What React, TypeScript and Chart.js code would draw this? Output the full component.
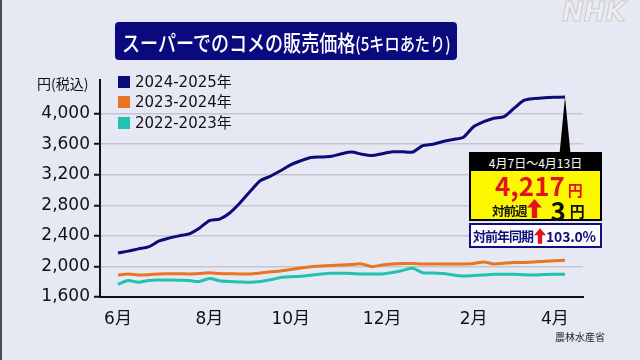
import React, { useEffect, useRef } from "react";
import { Chart, registerables } from "chart.js";

Chart.register(...registerables);

// ---- data (weekly, from the first week of June to the week of April 7–13) ----
const series2024: number[] = [
  2176, 2200, 2230, 2255, 2330, 2370, 2400, 2425, 2500, 2600,
  2620, 2700, 2830, 2980, 3121, 3180, 3252, 3330, 3383, 3426,
  3432, 3442, 3475, 3497, 3468, 3452, 3475, 3500, 3500, 3497,
  3580, 3600, 3636, 3661, 3691, 3829, 3894, 3940, 3960, 4071,
  4176, 4198, 4209, 4214, 4217,
];
const series2023: number[] = [
  1888, 1902, 1888, 1892, 1902, 1904, 1905, 1902, 1908, 1918,
  1908, 1904, 1902, 1902, 1915, 1930, 1941, 1960, 1980, 1997,
  2006, 2013, 2020, 2026, 2033, 1997, 2020, 2033, 2039, 2039,
  2033, 2033, 2033, 2033, 2033, 2039, 2059, 2033, 2042, 2050,
  2052, 2059, 2069, 2075, 2080,
];
const series2022: number[] = [
  1766, 1816, 1793, 1816, 1823, 1823, 1820, 1816, 1803, 1843,
  1814, 1803, 1797, 1793, 1803, 1825, 1855, 1865, 1872, 1885,
  1900, 1911, 1911, 1908, 1902, 1902, 1902, 1921, 1947, 1976,
  1918, 1915, 1908, 1888, 1875, 1882, 1888, 1898, 1898, 1898,
  1891, 1888, 1895, 1898, 1898,
];
const seriesNames: string[] = ["2024-2025年", "2023-2024年", "2022-2023年"];
const seriesColors: string[] = ["#0b0b7a", "#ea7420", "#22c2b2"];
const monthLabels: string[] = ["6月", "8月", "10月", "12月", "2月", "4月"];
const monthWeekIndex: number[] = [0, 9, 17, 26, 35, 43];
const yTickValues: number[] = [1600, 2000, 2400, 2800, 3200, 3600, 4000];

const titleMain = "スーパーでのコメの販売価格";
const titleSub = "(5キロあたり)";
const unitLabel = "円(税込)";
const calloutPeriod = "4月7日～4月13日";
const calloutPrice = "4,217";
const calloutWeekLabel = "対前週";
const calloutWeekDiff = "3";
const calloutYearLabel = "対前年同期";
const calloutYearPct = "103.0%";
const sourceLabel = "農林水産省";

const NUM_FONT = '"DejaVu Sans", "Noto Sans CJK JP", sans-serif';
const JP_FONT = '"Noto Sans CJK JP", "Noto Sans", sans-serif';

const pointerPlugin = {
  id: "calloutPointer",
  afterDatasetsDraw(chart: any) {
    const meta = chart.getDatasetMeta(0);
    const pt = meta.data[meta.data.length - 1];
    if (!pt) return;
    const ctx = chart.ctx;
    ctx.save();
    ctx.fillStyle = "#000";
    ctx.beginPath();
    ctx.moveTo(pt.x, pt.y);
    ctx.lineTo(pt.x - 5.5, 154);
    ctx.lineTo(pt.x + 5.5, 154);
    ctx.closePath();
    ctx.fill();
    ctx.restore();
  },
};

function UpArrow({ w, h }: { w: number; h: number }) {
  return (
    <svg width={w} height={h} viewBox="0 0 14 18" style={{ display: "inline-block" }}>
      <polygon points="7,0 14,8 9.5,8 9.5,18 4.5,18 4.5,8 0,8" fill="#e3121b" />
    </svg>
  );
}

export default function App() {
  const canvasRef = useRef<HTMLCanvasElement | null>(null);

  useEffect(() => {
    const canvas = canvasRef.current;
    if (!canvas) return;
    const all = [series2024, series2023, series2022];
    const chart = new Chart(canvas, {
      type: "line",
      data: {
        datasets: all.map((s, k) => ({
          label: seriesNames[k],
          data: s.map((v, i) => ({ x: i, y: v })),
          borderColor: seriesColors[k],
          backgroundColor: seriesColors[k],
          borderWidth: 3,
          pointRadius: 0,
          tension: 0.25,
          fill: false,
        })),
      },
      options: {
        animation: false,
        responsive: false,
        devicePixelRatio: 1,
        layout: { padding: { top: 80, right: 57, bottom: 0, left: 0 } },
        plugins: { legend: { display: false }, tooltip: { enabled: false } },
        scales: {
          x: {
            type: "linear",
            min: -1.77,
            max: 45.77,
            afterBuildTicks: (scale: any) => {
              scale.ticks = monthWeekIndex.map((v) => ({ value: v }));
            },
            afterFit: (scale: any) => {
              scale.height = 63;
            },
            ticks: {
              autoSkip: false,
              maxRotation: 0,
              padding: 12,
              color: "#111",
              font: { family: NUM_FONT, size: 17 },
              callback: (value: any) => {
                const idx = monthWeekIndex.indexOf(Number(value));
                return idx >= 0 ? monthLabels[idx] : "";
              },
            },
            grid: { display: false, drawTicks: false },
            border: { display: true, color: "#111", width: 2 },
          },
          y: {
            min: 1600,
            max: 4440,
            afterBuildTicks: (scale: any) => {
              scale.ticks = yTickValues.map((v) => ({ value: v }));
            },
            afterFit: (scale: any) => {
              scale.width = 100;
            },
            ticks: {
              padding: 4,
              color: "#111",
              font: { family: NUM_FONT, size: 17 },
              callback: (value: any) => Number(value).toLocaleString("en-US"),
            },
            grid: {
              color: (ctx: any) => (ctx.tick && ctx.tick.value === 1600 ? "rgba(0,0,0,0)" : "#c3c6cf"),
              lineWidth: 1.5,
              tickLength: 6,
              tickColor: "#111",
              tickWidth: 2,
            },
            border: { display: true, color: "#111", width: 2 },
          },
        },
      },
      plugins: [pointerPlugin],
    });
    return () => chart.destroy();
  }, []);

  const abs = (o: React.CSSProperties): React.CSSProperties => ({ position: "absolute", ...o });

  return (
    <div
      style={{
        position: "fixed",
        left: 0,
        top: 0,
        width: 640,
        height: 360,
        background: "#e6e9f4",
        overflow: "hidden",
        fontFamily: JP_FONT,
      }}
    >
      <div style={abs({ left: 0, top: 0, width: 2, height: 360, background: "#4a4c58" })} />
      <canvas ref={canvasRef} width={640} height={360} style={abs({ left: 0, top: 0 })} />

      {/* NHK mark */}
      <div
        style={abs({
          left: 562,
          top: -4,
          fontFamily: '"DejaVu Sans", sans-serif',
          fontWeight: 700,
          fontStyle: "italic",
          fontSize: 26,
          color: "#ededed",
          WebkitTextStroke: "1px #c9cbd0",
          lineHeight: "32px",
          whiteSpace: "nowrap",
        })}
      >
        NHK
      </div>

      {/* title */}
      <div
        style={abs({
          left: 115,
          top: 22,
          width: 342,
          height: 38,
          background: "#0a0a7e",
          borderRadius: 4,
        })}
      >
        <div
          style={abs({
            left: 7,
            top: 0,
            height: 38,
            lineHeight: "38px",
            color: "#fff",
            whiteSpace: "nowrap",
            transform: "scaleX(0.82)",
            transformOrigin: "left center",
            fontWeight: 500,
          })}
        >
          <span style={{ fontSize: 22 }}>{titleMain}</span>
          <span style={{ fontSize: 18.5 }}>{titleSub}</span>
        </div>
      </div>

      {/* unit */}
      <div style={abs({ left: 37, top: 74, fontSize: 14, lineHeight: "18px", color: "#111", whiteSpace: "nowrap" })}>
        {unitLabel}
      </div>

      {/* legend */}
      {seriesNames.map((name, k) => (
        <div key={name} style={abs({ left: 118, top: 72 + k * 20.3, height: 20, display: "flex", alignItems: "center" })}>
          <div style={{ width: 12, height: 12, background: seriesColors[k] }} />
          <div
            style={{
              marginLeft: 5,
              fontFamily: NUM_FONT,
              fontSize: 15,
              color: "#111",
              whiteSpace: "nowrap",
              lineHeight: "20px",
            }}
          >
            {name}
          </div>
        </div>
      ))}

      {/* callout */}
      <div style={abs({ left: 469, top: 152, width: 133, height: 69, boxSizing: "border-box", border: "2px solid #000", background: "#fbf800" })}>
        <div
          style={{
            height: 17,
            background: "#000",
            color: "#fff",
            fontSize: 12,
            lineHeight: "17px",
            textAlign: "center",
            whiteSpace: "nowrap",
          }}
        >
          {calloutPeriod}
        </div>
        <div style={abs({ left: 24, top: 15, whiteSpace: "nowrap", color: "#e3121b", fontWeight: 700 })}>
          <span style={{ fontSize: 26, lineHeight: "32px" }}>{calloutPrice}</span>
          <span style={{ fontSize: 15, marginLeft: 3 }}>円</span>
        </div>
        <div style={abs({ left: 21, top: 46, whiteSpace: "nowrap", color: "#111", fontWeight: 700, display: "flex", alignItems: "center", height: 20 })}>
          <span style={{ fontSize: 12.5, letterSpacing: -1 }}>{calloutWeekLabel}</span>
          <span style={{ marginLeft: 0, marginTop: 1 }}>
            <UpArrow w={15} h={19} />
          </span>
          <span style={{ fontSize: 26, marginLeft: 9, lineHeight: "20px" }}>{calloutWeekDiff}</span>
          <span style={{ fontSize: 15, marginLeft: 4 }}>円</span>
        </div>
      </div>
      <div
        style={abs({
          left: 469,
          top: 223,
          width: 133,
          height: 25,
          boxSizing: "border-box",
          border: "2px solid #10107a",
          background: "#fbfbfd",
          display: "flex",
          alignItems: "center",
          paddingLeft: 2,
          whiteSpace: "nowrap",
          color: "#10107a",
          fontWeight: 700,
          overflow: "hidden",
        })}
      >
        <span style={{ fontSize: 13, letterSpacing: -1 }}>{calloutYearLabel}</span>
        <span style={{ display: "inline-flex", marginLeft: 1 }}>
          <UpArrow w={12} h={18} />
        </span>
        <span style={{ fontSize: 14, letterSpacing: -0.2 }}>{calloutYearPct}</span>
      </div>

      {/* source */}
      <div style={abs({ left: 555, top: 330, fontSize: 10, lineHeight: "14px", color: "#222", whiteSpace: "nowrap" })}>
        {sourceLabel}
      </div>
    </div>
  );
}
